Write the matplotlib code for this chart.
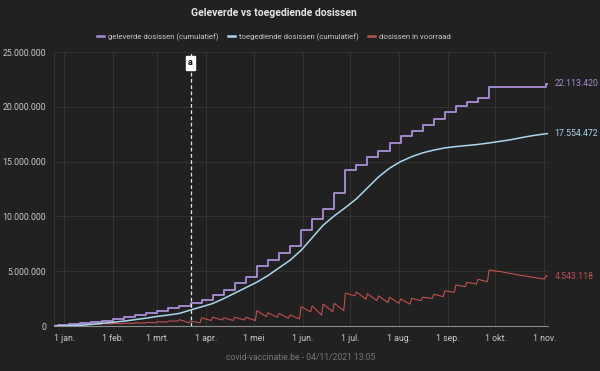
import pandas as pd
import numpy as np
import matplotlib.pyplot as plt
import matplotlib.dates as mdates
from matplotlib.lines import Line2D

plt.rcParams['font.family'] = ['Roboto', 'DejaVu Sans']

# === data (in miljoen dosissen) ===
weeks = pd.date_range("2020-12-28", "2021-11-01", freq="7D")  # maandagen

delivered = [0.06, 0.14, 0.24, 0.35, 0.47, 0.60, 0.78, 0.98, 1.15, 1.37,
             1.60, 1.82, 2.07, 2.37, 2.83, 3.28, 3.95, 4.50, 5.50, 6.00,
             6.65, 7.30, 8.80, 9.80, 10.70, 12.10, 14.20, 14.70, 15.40, 16.00,
             16.70, 17.30, 17.80, 18.30, 18.90, 19.50, 20.10, 20.40, 20.80, 21.80,
             21.80, 21.80, 21.80, 21.80, 21.80]

administered = [0.00, 0.02, 0.06, 0.14, 0.24, 0.34, 0.45, 0.58, 0.72, 0.88,
                1.00, 1.15, 1.46, 1.75, 2.05, 2.50, 3.00, 3.50, 4.00, 4.60,
                5.30, 6.00, 6.90, 8.05, 9.20, 10.05, 10.80, 11.60, 12.60, 13.60,
                14.40, 15.00, 15.45, 15.80, 16.05, 16.25, 16.37, 16.47, 16.57, 16.70,
                16.85, 17.00, 17.20, 17.38, 17.52]

# voorraad: zondag (voor levering) en maandag (na levering)
stock_low = [0.00, 0.06, 0.10, 0.14, 0.17, 0.19, 0.20, 0.23, 0.26, 0.30,
             0.35, 0.45, 0.30, 0.30, 0.50, 0.55, 0.50, 0.55, 0.50, 0.85,
             0.80, 0.70, 0.65, 1.30, 1.00, 1.30, 1.40, 2.75, 2.46, 2.31,
             2.13, 2.07, 2.00, 2.31, 2.52, 2.68, 3.07, 3.59, 3.83, 4.04,
             4.98, 4.80, 4.62, 4.46, 4.30]
stock_peak = [0.08, 0.12, 0.17, 0.20, 0.22, 0.24, 0.27, 0.30, 0.33, 0.40,
              0.45, 0.58, 0.45, 0.75, 0.80, 0.75, 0.80, 0.80, 1.40, 1.20,
              1.15, 1.00, 1.76, 1.82, 2.00, 2.07, 3.00, 3.10, 2.95, 2.75,
              2.62, 2.46, 2.52, 2.62, 2.89, 3.22, 3.74, 3.99, 4.26, 5.11,
              4.97, 4.79, 4.61, 4.45, 4.29]

end_dates = pd.to_datetime(["2021-11-02", "2021-11-03"])
end_delivered = [22.113420, 22.113420]
end_administered = [17.54, 17.554472]
end_stock = [4.58, 4.543118]

start_date = pd.Timestamp("2020-12-26")
marker_date = pd.Timestamp("2021-03-22")
marker_label = "a"

month_ticks = pd.date_range("2021-01-01", "2021-11-01", freq="MS")
month_labels = ["1 jan.", "1 feb.", "1 mrt.", "1 apr.", "1 mei", "1 jun.",
                "1 jul.", "1 aug.", "1 sep.", "1 okt.", "1 nov."]

# === kleuren ===
bg = "#212121"
c_del = "#a58bd3"
c_adm = "#acd6ec"
c_stock = "#c0504f"
grid_c = "#363636"
txt_c = "#c8c8c8"

def fmt(v):
    return f"{v:,.0f}".replace(",", ".")

fig = plt.figure(figsize=(6, 3.71), dpi=100, facecolor=bg)
ax = fig.add_axes([54.3/600, 45/371, (547.7-54.3)/600, (326-52)/371], facecolor=bg)

# geleverd (trap)
x_del = [start_date] + list(weeks) + list(end_dates)
y_del = np.array([0.0] + delivered + end_delivered) * 1e6
ax.plot(x_del, y_del, drawstyle="steps-post", color=c_del, lw=1.35, zorder=4)

# toegediend
x_adm = [start_date] + list(weeks) + list(end_dates)
y_adm = np.array([0.0] + administered + end_administered) * 1e6
ax.plot(x_adm, y_adm, color=c_adm, lw=1.1, zorder=4)

# voorraad (zaagtand)
x_st, y_st = [], []
for d, lo, hi in zip(weeks, stock_low, stock_peak):
    x_st += [d - pd.Timedelta(days=1), d]
    y_st += [lo, hi]
x_st += list(end_dates)
y_st += end_stock
ax.plot(x_st, np.array(y_st) * 1e6, color=c_stock, lw=0.8, zorder=3)

# eindwaarden
for val, col in [(end_delivered[-1], c_del), (end_administered[-1], c_adm), (end_stock[-1], c_stock)]:
    ax.annotate(fmt(val * 1e6), xy=(end_dates[-1], val * 1e6), xytext=(5, 0),
                textcoords="offset points", va="center", ha="left",
                color=col, fontsize=6.3, annotation_clip=False)

# markering "a"
ax.axvline(marker_date, color="#e6e6e6", lw=0.9, ls=(0, (3, 2)), zorder=5)
ax.text(marker_date, 24.0e6, marker_label, ha="center", va="center", fontsize=6.5,
        fontweight="bold", color="#111111", zorder=6,
        bbox=dict(boxstyle="square,pad=0.25", fc="white", ec="white"))

# assen
ax.set_xlim(pd.Timestamp("2020-12-25 18:00"), pd.Timestamp("2021-11-03 03:00"))
ax.set_ylim(0, 25e6)
ax.set_yticks(np.arange(0, 25e6 + 1, 5e6))
ax.set_yticklabels([fmt(v) for v in np.arange(0, 25e6 + 1, 5e6)])
ax.set_xticks(month_ticks)
ax.set_xticklabels(month_labels)
ax.tick_params(length=0, colors=txt_c, labelsize=6.3)
ax.tick_params(axis="x", pad=6)
ax.tick_params(axis="y", pad=6)
ax.grid(True, color=grid_c, lw=0.6)
ax.set_axisbelow(True)
for s in ["top", "right"]:
    ax.spines[s].set_visible(False)
ax.spines["left"].set_color(grid_c)
ax.spines["left"].set_linewidth(0.6)
ax.spines["bottom"].set_color("#8a8a8a")
ax.spines["bottom"].set_linewidth(0.8)

# titel, legenda, bron
fig.text(274/600, 1 - 13/371, "Geleverde vs toegediende dosissen", ha="center", va="center",
         fontsize=7.5, fontweight="bold", color="#e4e4e4")
handles = [Line2D([], [], color=c_del, lw=1.8),
           Line2D([], [], color=c_adm, lw=1.8),
           Line2D([], [], color=c_stock, lw=1.8)]
leg = fig.legend(handles, ["geleverde dosissen (cumulatief)", "toegediende dosissen (cumulatief)",
                           "dosissen in voorraad"],
                 loc="center", bbox_to_anchor=(274/600, 1 - 37/371), ncol=3, frameon=False,
                 fontsize=5.6, handlelength=0.9, handletextpad=0.5, columnspacing=1.2)
for t in leg.get_texts():
    t.set_color(txt_c)
fig.text(301/600, 1 - 358/371, "covid-vaccinatie.be - 04/11/2021 13:05", ha="center", va="center",
         fontsize=6.2, color="#777777")

plt.savefig("out.png", dpi=100, facecolor=bg)
